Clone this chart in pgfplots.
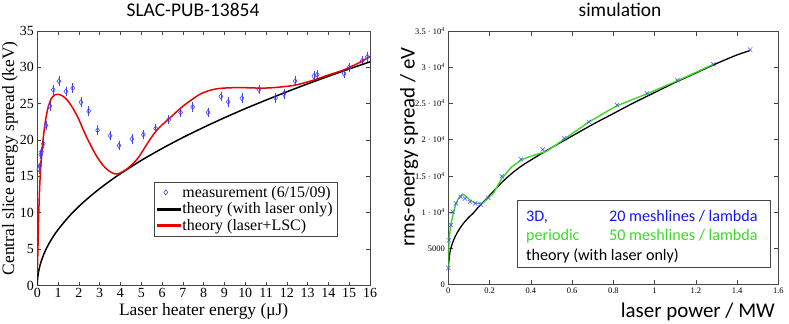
\documentclass[border=0pt]{standalone}
\usepackage{fontspec}
\setmainfont{Liberation Serif}
\newfontfamily\calibri{Carlito}
\usepackage{pgfplots}
\pgfplotsset{compat=1.18}
\definecolor{measblue}{RGB}{70,70,255}
\definecolor{simgreen}{RGB}{60,215,40}
\definecolor{txtblue}{RGB}{20,20,240}
\definecolor{framegray}{RGB}{70,70,70}
\definecolor{lscred}{RGB}{235,0,0}
\pgfplotsset{
  blacklegend/.style={legend image code/.code={\fill[black] (0bp,-0.8bp) rectangle (23bp,0.8bp);}},
  redlegend/.style={legend image code/.code={\fill[lscred] (0bp,-0.8bp) rectangle (23bp,0.8bp);}},
}

\begin{document}
\begin{tikzpicture}[x=1bp,y=1bp]
\path[use as bounding box] (0,0) rectangle (789,323);

% left panel: measurement
\begin{axis}[
  at={(37.3bp,37.5bp)}, anchor=south west, scale only axis,
  width=332.7bp, height=254.5bp,
  xmin=0, xmax=16, ymin=0, ymax=35,
  xtick={0,1,...,16}, ytick={0,5,...,35},
  tick align=inside, major tick length=4bp,
  axis line style={framegray, line width=0.8bp},
  tick style={framegray, line width=0.6bp},
  ticklabel style={font=\fontsize{14}{14}\selectfont},
  xticklabel style={yshift=1bp},
  /pgf/number format/assume math mode=true,
  xlabel={Laser heater energy (μJ)},
  ylabel={Central slice energy spread (keV)},
  label style={font=\fontsize{17.5}{18}\selectfont},
  xlabel style={at={(axis description cs:0.5,-0.118)}, anchor=base},
  ylabel style={at={(axis description cs:-0.082,0.5)}, anchor=center},
  legend style={at={(rel axis cs:0.903,0.407)}, anchor=north east,
    draw=framegray, font=\fontsize{16}{18}\selectfont},
  legend cell align=left,
]
\addplot[only marks, mark=diamond, mark size=2.6bp, color=measblue,
  mark options={line width=0.6bp}, forget plot,
  error bars/.cd, y dir=both, y fixed=0.3,
  error bar style={measblue, line width=0.6bp},
  error mark options={measblue, mark size=2.6bp, line width=0.6bp}]
coordinates {
(0.08,16.0) (0.13,16.5) (0.16,18.0) (0.2,18.4) (0.29,19.5) (0.42,22.0)
(0.61,24.7) (0.77,26.9) (1.04,28.1) (1.38,26.7) (1.70,27.15) (2.10,25.2)
(2.47,24.0) (2.90,21.35) (3.50,20.6) (3.93,19.25) (4.55,20.15) (5.10,20.75)
(5.69,21.6) (6.32,22.8) (6.89,23.8) (7.47,24.55) (8.21,23.8) (8.83,26.0)
(9.18,25.25) (9.84,25.75) (10.66,26.95) (11.46,25.8) (11.86,26.35) (12.40,28.1)
(13.30,28.8) (13.46,29.0) (14.75,29.15) (15.0,30.0) (15.63,30.95) (15.87,31.45)
};

\addplot[black, line width=1.5bp, smooth, forget plot] coordinates {
(0,0) (0.002,0.34) (0.005,0.54) (0.01,0.77) (0.02,1.09) (0.05,1.72) (0.1,2.43)
(0.2,3.44) (0.35,4.55) (0.5,5.44) (0.75,6.66) (1,7.69) (1.5,9.42) (2,10.88)
(2.5,12.16) (3,13.32) (3.5,14.39) (4,15.38) (5,17.20) (6,18.84) (7,20.35)
(8,21.75) (9,23.07) (10,24.32) (11,25.50) (12,26.64) (13,27.73) (14,28.77)
(15,29.78) (16,30.76)
};

\addplot[color=lscred, line width=1.5bp, smooth, forget plot] coordinates {
(0,1.7) (0.03,5) (0.06,9) (0.1,12.5) (0.13,14.5) (0.17,16.5) (0.21,17.9)
(0.26,19.6) (0.32,21.1) (0.38,22.4) (0.45,23.6) (0.54,24.7) (0.64,25.5)
(0.75,26.0) (0.87,26.25) (1.01,26.3) (1.2,26.1) (1.41,25.6) (1.57,25.0)
(1.73,24.3) (1.9,23.4) (2.05,22.5) (2.2,21.5) (2.37,20.4) (2.53,19.5)
(2.69,18.6) (2.85,17.8) (3.01,17.1) (3.17,16.5) (3.34,16.0) (3.53,15.6)
(3.73,15.35) (3.93,15.4) (4.13,15.7) (4.3,16.0) (4.46,16.4) (4.65,16.9)
(4.86,17.6) (5.1,18.65) (5.4,20.0) (5.7,21.2) (6.0,22.1) (6.32,22.9)
(6.7,23.9) (7.02,24.7) (7.4,25.5) (7.82,26.3) (8.2,26.75) (8.62,27.05)
(9.0,27.15) (9.4,27.2) (10,27.2) (10.7,27.15) (11.3,27.2) (12.3,27.5)
(13.0,28.0) (13.45,28.4) (14.0,28.95) (14.7,29.6) (15.2,30.25) (15.55,30.75)
(16,31.5)
};

\addlegendimage{only marks, mark=diamond, mark size=2.6bp, color=measblue, mark options={line width=0.6bp}}
\addlegendentry{measurement (6/15/09)}
\addlegendimage{blacklegend}
\addlegendentry{theory (with laser only)}
\addlegendimage{redlegend}
\addlegendentry{theory (laser+LSC)}
\end{axis}

% right panel: simulation
\begin{axis}[
  at={(448.3bp,38.5bp)}, anchor=south west, scale only axis,
  width=330bp, height=253.5bp,
  xmin=0, xmax=1.6, ymin=0, ymax=35000,
  xtick={0,0.2,0.4,0.6,0.8,1,1.2,1.4,1.6},
  ytick={0,5000,10000,15000,20000,25000,30000,35000},
  yticklabels={0,5000,1 · 10\textsuperscript{4},1.5 · 10\textsuperscript{4},2 · 10\textsuperscript{4},2.5 · 10\textsuperscript{4},3 · 10\textsuperscript{4},3.5 · 10\textsuperscript{4}},
  scaled y ticks=false,
  tick align=inside, major tick length=4.5bp,
  axis line style={framegray, line width=0.8bp},
  tick style={framegray, line width=0.6bp},
  ticklabel style={font=\fontsize{8.5}{8.5}\selectfont},
  /pgf/number format/assume math mode=true,
  xlabel={laser power / MW},
  ylabel={rms-energy spread / eV},
  label style={font=\calibri\fontsize{21}{21}\selectfont},
  xlabel style={at={(axis description cs:1,-0.108)}, anchor=east},
  ylabel style={at={(axis description cs:-0.119,0.542)}, anchor=center},
]
\addplot[black, line width=1.3bp, smooth] coordinates {
(0,2500) (0.005,3800) (0.01,4750) (0.02,5700) (0.033,6600) (0.05,7500)
(0.073,8430) (0.1,9300) (0.121,9850) (0.154,10950) (0.194,12100)
(0.267,14300) (0.348,16230) (0.477,18500) (0.6,20500) (0.7,22100)
(0.8,23600) (0.9,25100) (1.0,26500) (1.1,27900) (1.2,29200) (1.3,30500)
(1.4,31700) (1.463,32300)
};
\addplot[simgreen, line width=1.4bp] coordinates {
(0,2200) (0.003,6000) (0.012,8300) (0.024,9810) (0.037,11200) (0.049,11870)
(0.07,12470) (0.085,12200) (0.105,11640) (0.13,11250) (0.146,11190)
(0.17,11270) (0.194,12000) (0.218,12560) (0.259,14630) (0.307,16230)
(0.356,17250) (0.4,17700) (0.477,18400) (0.566,20150) (0.679,22400)
(0.784,24140) (0.82,24700) (0.965,26350) (1.115,28180) (1.285,30400)
};
\addplot[only marks, mark=x, mark size=3bp, color=measblue, mark options={line width=0.5bp}] coordinates {
(0,2300) (0.003,6100) (0.012,8200) (0.021,10030) (0.037,11190) (0.06,12100)
(0.081,11870) (0.105,11410) (0.13,11190) (0.157,11050) (0.194,11960)
(0.259,14950) (0.352,17300) (0.458,18650) (0.562,20180) (0.681,22450)
(0.818,24770) (0.963,26380) (1.111,28220) (1.285,30400) (1.463,32440)
};
\end{axis}

% titles
\node[font=\calibri\fontsize{19.5}{20}\selectfont] at (193,313) {SLAC-PUB-13854};
\node[font=\calibri\fontsize{19.5}{20}\selectfont] at (620,313) {simulation};

% right-hand text box
\draw[framegray, line width=1bp] (517.3,55.7) rectangle (770,123);
\begin{scope}[every node/.style={anchor=base west, inner sep=0pt, font=\calibri\fontsize{16.2}{19}\selectfont}]
\node[txtblue] at (526,102) {3D,};
\node[txtblue] at (609,102) {20 meshlines / lambda};
\node[simgreen] at (526,82.5) {periodic};
\node[simgreen] at (609,82.5) {50 meshlines / lambda};
\node[black] at (526,63) {theory (with laser only)};
\end{scope}
\end{tikzpicture}
\end{document}
